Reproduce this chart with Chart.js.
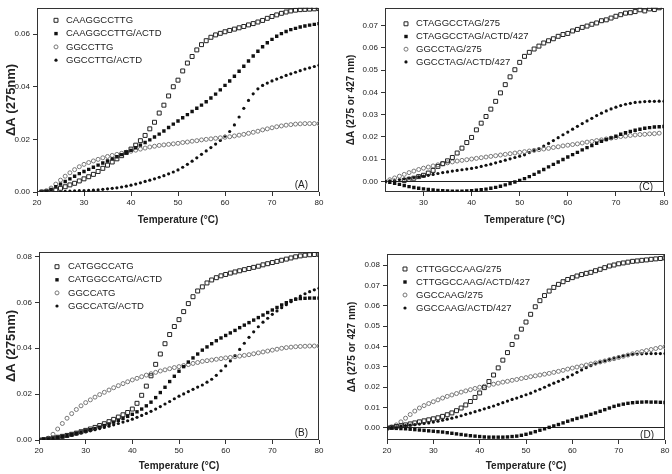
<!DOCTYPE html>
<html>
<head>
<meta charset="utf-8">
<script src="https://cdn.jsdelivr.net/npm/chart.js@4.4.0/dist/chart.umd.min.js"></script>
<style>
  body { margin: 0; background: #fff; }
  #wrap { position: relative; width: 672px; height: 474px; }
  canvas { position: absolute; }
</style>
</head>
<body>
<div id="wrap">
  <canvas id="chartA" width="336" height="237" style="left:0;top:0"></canvas>
  <canvas id="chartC" width="336" height="237" style="left:336px;top:0"></canvas>
  <canvas id="chartB" width="336" height="237" style="left:0;top:237px"></canvas>
  <canvas id="chartD" width="336" height="237" style="left:336px;top:237px"></canvas>
</div>
<script>
// temperature (°C), shared by all four panels
const temps = [20, 21, 22, 23, 24, 25, 26, 27, 28, 29, 30, 31, 32, 33, 34, 35, 36, 37, 38, 39, 40,
  41, 42, 43, 44, 45, 46, 47, 48, 49, 50, 51, 52, 53, 54, 55, 56, 57, 58, 59, 60,
  61, 62, 63, 64, 65, 66, 67, 68, 69, 70, 71, 72, 73, 74, 75, 76, 77, 78, 79, 80];

// Panel A
const labelsA = ['CAAGGCCTTG', 'CAAGGCCTTG/ACTD', 'GGCCTTG', 'GGCCTTG/ACTD'];
const a1 = [null, 0, 0, 0.0003, 0.0008, 0.0014, 0.002, 0.0027, 0.0033, 0.0042, 0.005, 0.0058, 0.0067, 0.0078, 0.009, 0.0102, 0.0114, 0.0126, 0.0138, 0.015, 0.0163, 0.0178, 0.0195, 0.0215, 0.024, 0.0265, 0.030, 0.033, 0.0365, 0.040, 0.0425, 0.046, 0.049, 0.0515, 0.054, 0.056, 0.0575, 0.0588, 0.0597, 0.0603, 0.0609, 0.0614, 0.0619, 0.0624, 0.0629, 0.0635, 0.064, 0.0646, 0.0652, 0.066, 0.0667, 0.0673, 0.0679, 0.0684, 0.0688, 0.0691, 0.0693, 0.0694, 0.0695, 0.0696, 0.0697];
const a2 = [null, 0, 0.0003, 0.001, 0.002, 0.003, 0.004, 0.005, 0.006, 0.007, 0.0078, 0.0086, 0.0094, 0.0102, 0.011, 0.0118, 0.0126, 0.0134, 0.0142, 0.015, 0.0158, 0.0168, 0.0178, 0.0188, 0.0198, 0.0209, 0.022, 0.0232, 0.0245, 0.0258, 0.027, 0.0282, 0.0294, 0.0306, 0.0318, 0.033, 0.0343, 0.0357, 0.0372, 0.0388, 0.0405, 0.0422, 0.044, 0.0459, 0.0478, 0.0498, 0.0517, 0.0535, 0.0552, 0.0567, 0.058, 0.0592, 0.0602, 0.061, 0.0617, 0.0622, 0.0627, 0.0631, 0.0634, 0.0637, 0.064];
const a3 = [null, 0, 0.0005, 0.0015, 0.003, 0.0045, 0.006, 0.0073, 0.0085, 0.0096, 0.0105, 0.0112, 0.0118, 0.0124, 0.013, 0.0135, 0.0139, 0.0143, 0.0147, 0.0151, 0.0155, 0.0159, 0.0163, 0.0167, 0.0171, 0.0174, 0.0177, 0.0179, 0.0181, 0.0183, 0.0185, 0.0188, 0.019, 0.0193, 0.0195, 0.0198, 0.02, 0.0202, 0.0204, 0.0206, 0.0208, 0.021, 0.0213, 0.0216, 0.0219, 0.0223, 0.0227, 0.0231, 0.0236, 0.024, 0.0244, 0.0248, 0.0251, 0.0254, 0.0256, 0.0258, 0.0259, 0.026, 0.026, 0.026, 0.026];
const a4 = [null, null, null, null, null, 0, 0.0002, 0.0003, 0.0004, 0.0005, 0.0005, 0.0006, 0.0007, 0.0008, 0.001, 0.0012, 0.0014, 0.0016, 0.0019, 0.0022, 0.0026, 0.003, 0.0035, 0.004, 0.0045, 0.005, 0.0056, 0.0062, 0.0069, 0.0076, 0.0084, 0.0094, 0.0105, 0.0117, 0.013, 0.0143, 0.0156, 0.0169, 0.0182, 0.0196, 0.0212, 0.023, 0.0255, 0.0285, 0.0318, 0.0348, 0.0373, 0.0392, 0.0405, 0.0414, 0.0422, 0.0429, 0.0436, 0.0443, 0.0449, 0.0455, 0.0461, 0.0467, 0.0472, 0.0477, 0.0482];

// Panel B
const labelsB = ['CATGGCCATG', 'CATGGCCATG/ACTD', 'GGCCATG', 'GGCCATG/ACTD'];
const b1 = [0, 0.0002, 0.0005, 0.0008, 0.0012, 0.0016, 0.002, 0.0025, 0.003, 0.0036, 0.0042, 0.0048, 0.0055, 0.0063, 0.0071, 0.008, 0.009, 0.01, 0.011, 0.012, 0.0135, 0.016, 0.0195, 0.0235, 0.028, 0.033, 0.0375, 0.042, 0.046, 0.0495, 0.0525, 0.056, 0.0595, 0.0625, 0.065, 0.0668, 0.0685, 0.0698, 0.0708, 0.0716, 0.0722, 0.0728, 0.0733, 0.0738, 0.0743, 0.0748, 0.0753, 0.0758, 0.0764, 0.0769, 0.0774, 0.0779, 0.0784, 0.0789, 0.0794, 0.0799, 0.0803, 0.0806, 0.0808, 0.0809, 0.081];
const b2 = [0, 0.0002, 0.0005, 0.0008, 0.0012, 0.0016, 0.002, 0.0025, 0.003, 0.0035, 0.004, 0.0045, 0.005, 0.0056, 0.0063, 0.007, 0.0078, 0.0086, 0.0094, 0.0103, 0.0112, 0.0123, 0.0135, 0.0149, 0.0165, 0.0185, 0.0207, 0.023, 0.0255, 0.0278, 0.03, 0.032, 0.034, 0.0358, 0.0375, 0.0392, 0.0406, 0.042, 0.0433, 0.0445, 0.0456, 0.0467, 0.0478, 0.049, 0.0501, 0.0512, 0.0523, 0.0534, 0.0545, 0.0556, 0.0567, 0.0578, 0.0589, 0.0599, 0.0608, 0.0614, 0.0617, 0.0618, 0.0619, 0.0619, 0.0619];
const b3 = [0, 0.0002, 0.0008, 0.0025, 0.0048, 0.0072, 0.0095, 0.0115, 0.0133, 0.0149, 0.0163, 0.0175, 0.0187, 0.0198, 0.0208, 0.0218, 0.0228, 0.0237, 0.0246, 0.0254, 0.0262, 0.0269, 0.0276, 0.0283, 0.0289, 0.0295, 0.0301, 0.0306, 0.0311, 0.0316, 0.032, 0.0325, 0.0329, 0.0334, 0.0338, 0.0343, 0.0346, 0.0349, 0.0352, 0.0355, 0.0358, 0.036, 0.0363, 0.0366, 0.0369, 0.0372, 0.0376, 0.038, 0.0384, 0.0388, 0.0392, 0.0396, 0.04, 0.0403, 0.0405, 0.0407, 0.0408, 0.0409, 0.041, 0.041, 0.041];
const b4 = [0, 0.0002, 0.0004, 0.0006, 0.0009, 0.0012, 0.0016, 0.002, 0.0025, 0.003, 0.0035, 0.004, 0.0045, 0.005, 0.0055, 0.006, 0.0066, 0.0072, 0.0078, 0.0084, 0.0091, 0.0099, 0.0107, 0.0116, 0.0125, 0.0135, 0.0146, 0.0157, 0.0168, 0.018, 0.0191, 0.0201, 0.0211, 0.0221, 0.0231, 0.024, 0.0252, 0.0265, 0.0282, 0.0302, 0.0323, 0.0345, 0.0368, 0.0395, 0.0422, 0.0448, 0.0472, 0.0494, 0.0514, 0.0531, 0.0548, 0.0563, 0.0577, 0.059, 0.0603, 0.0616, 0.0628, 0.0638, 0.0647, 0.0655, 0.0662];

// Panel C
const labelsC = ['CTAGGCCTAG/275', 'CTAGGCCTAG/ACTD/427', 'GGCCTAG/275', 'GGCCTAG/ACTD/427'];
const c1 = [null, null, null, null, null, null, 0.0005, 0.001, 0.0015, 0.0022, 0.0028, 0.0038, 0.005, 0.0068, 0.008, 0.0093, 0.0108, 0.0128, 0.015, 0.0175, 0.0198, 0.0232, 0.0262, 0.0292, 0.0325, 0.036, 0.0398, 0.0435, 0.047, 0.0502, 0.0535, 0.0562, 0.058, 0.0595, 0.0608, 0.0622, 0.0632, 0.0641, 0.0652, 0.066, 0.0665, 0.0676, 0.0683, 0.0692, 0.0698, 0.0706, 0.0712, 0.0722, 0.0726, 0.0734, 0.0742, 0.0749, 0.0756, 0.0758, 0.0763, 0.0771, 0.0766, 0.0775, 0.0772, 0.078, null];
const c2 = [null, null, 0, -0.0003, -0.0008, -0.0013, -0.0018, -0.0023, -0.0027, -0.003, -0.0033, -0.0035, -0.0038, -0.004, -0.0041, -0.0042, -0.0043, -0.0043, -0.0043, -0.0042, -0.0041, -0.0039, -0.0037, -0.0034, -0.003, -0.0026, -0.0021, -0.0015, -0.0009, -0.0002, 0.0005, 0.0013, 0.0022, 0.0032, 0.0043, 0.0054, 0.0066, 0.0077, 0.0088, 0.0099, 0.011, 0.0121, 0.0131, 0.0142, 0.0152, 0.0162, 0.0172, 0.0181, 0.0189, 0.0196, 0.0203, 0.0212, 0.0219, 0.0225, 0.023, 0.0235, 0.0239, 0.0242, 0.0245, 0.0246, 0.0247];
const c3 = [null, null, 0, 0.0008, 0.0016, 0.0024, 0.0032, 0.004, 0.0047, 0.0054, 0.006, 0.0065, 0.007, 0.0075, 0.008, 0.0084, 0.0088, 0.0092, 0.0095, 0.0098, 0.0101, 0.0104, 0.0107, 0.011, 0.0113, 0.0116, 0.0119, 0.0122, 0.0125, 0.0128, 0.0131, 0.0134, 0.0137, 0.014, 0.0143, 0.0146, 0.0149, 0.0153, 0.0156, 0.016, 0.0163, 0.0166, 0.0169, 0.0173, 0.0177, 0.018, 0.0184, 0.0187, 0.0191, 0.0195, 0.0198, 0.0202, 0.0204, 0.0207, 0.0209, 0.0211, 0.0212, 0.0214, 0.0215, 0.0217, null];
const c4 = [null, null, 0, 0.0003, 0.0006, 0.0009, 0.0012, 0.0015, 0.0018, 0.0021, 0.0024, 0.0028, 0.0032, 0.0036, 0.004, 0.0043, 0.0047, 0.005, 0.0053, 0.0056, 0.0059, 0.0063, 0.0068, 0.0073, 0.0078, 0.0084, 0.009, 0.0096, 0.0102, 0.0108, 0.0114, 0.012, 0.013, 0.0139, 0.0148, 0.0159, 0.0171, 0.0184, 0.0197, 0.021, 0.0222, 0.0235, 0.0248, 0.026, 0.0272, 0.0284, 0.0296, 0.0307, 0.0317, 0.0326, 0.0334, 0.0341, 0.0347, 0.0351, 0.0355, 0.0357, 0.0359, 0.036, 0.036, 0.0361, 0.0361];

// Panel D
const labelsD = ['CTTGGCCAAG/275', 'CTTGGCCAAG/ACTD/427', 'GGCCAAG/275', 'GGCCAAG/ACTD/427'];
const d1 = [0, 0.0003, 0.0007, 0.0011, 0.0015, 0.002, 0.0025, 0.003, 0.0035, 0.004, 0.0045, 0.005, 0.0057, 0.0065, 0.0074, 0.0085, 0.0098, 0.0113, 0.013, 0.015, 0.0172, 0.0198, 0.0228, 0.026, 0.0295, 0.0333, 0.037, 0.041, 0.0447, 0.0485, 0.052, 0.0558, 0.0595, 0.0625, 0.065, 0.0672, 0.069, 0.0705, 0.0718, 0.0729, 0.0738, 0.0746, 0.0753, 0.0759, 0.0764, 0.0772, 0.0779, 0.0787, 0.0795, 0.08, 0.0806, 0.081, 0.0814, 0.0818, 0.082, 0.0823, 0.0825, 0.0828, 0.083, 0.0832, 0.0835];
const d2 = [0, -0.0001, -0.0002, -0.0003, -0.0004, -0.0006, -0.0008, -0.001, -0.0012, -0.0014, -0.0016, -0.0018, -0.002, -0.0023, -0.0026, -0.0029, -0.0032, -0.0035, -0.0038, -0.004, -0.0042, -0.0044, -0.0045, -0.0045, -0.0045, -0.0045, -0.0044, -0.0042, -0.004, -0.0036, -0.0031, -0.0025, -0.0018, -0.0011, -0.0004, 0.0003, 0.001, 0.0017, 0.0025, 0.0033, 0.004, 0.0047, 0.0054, 0.006, 0.0067, 0.0074, 0.0082, 0.009, 0.0098, 0.0106, 0.0112, 0.0117, 0.0121, 0.0124, 0.0126, 0.0127, 0.0128, 0.0127, 0.0127, 0.0126, 0.0125];
const d3 = [0, 0.0005, 0.0015, 0.003, 0.0048, 0.0066, 0.0083, 0.0098, 0.011, 0.012, 0.0129, 0.0138, 0.0147, 0.0155, 0.0162, 0.0169, 0.0176, 0.0182, 0.0188, 0.0194, 0.02, 0.0205, 0.021, 0.0215, 0.022, 0.0225, 0.0229, 0.0234, 0.0238, 0.0243, 0.0247, 0.0252, 0.0256, 0.026, 0.0264, 0.0268, 0.0273, 0.0278, 0.0283, 0.0289, 0.0294, 0.0299, 0.0304, 0.0309, 0.0314, 0.0319, 0.0324, 0.0329, 0.0335, 0.034, 0.0346, 0.0352, 0.0358, 0.0364, 0.037, 0.0375, 0.038, 0.0385, 0.039, 0.0395, 0.0399];
const d4 = [0, 0.0003, 0.0006, 0.0009, 0.0012, 0.0014, 0.0016, 0.0019, 0.0022, 0.0025, 0.0029, 0.0033, 0.0038, 0.0043, 0.0048, 0.0054, 0.006, 0.0067, 0.0073, 0.008, 0.0087, 0.0094, 0.0101, 0.0108, 0.0116, 0.0124, 0.0132, 0.014, 0.0147, 0.0155, 0.0163, 0.0171, 0.0181, 0.019, 0.02, 0.021, 0.022, 0.0229, 0.0239, 0.025, 0.0261, 0.0273, 0.0285, 0.0296, 0.0306, 0.0315, 0.0323, 0.033, 0.0337, 0.0343, 0.0349, 0.0354, 0.0358, 0.0361, 0.0363, 0.0364, 0.0365, 0.0365, 0.0365, 0.0365, 0.0365];

const FONT = '"Liberation Sans", Arial, Helvetica, sans-serif';
Chart.defaults.font.family = FONT;
Chart.defaults.color = '#222';

// open square, filled square, open circle, small filled dot
const markers = [
  { pointStyle: 'rect', pointRadius: 2.8, pointBorderColor: '#222', pointBackgroundColor: 'rgba(0,0,0,0)', pointBorderWidth: 1 },
  { pointStyle: 'rect', pointRadius: 2.4, pointBorderColor: '#111', pointBackgroundColor: '#111', pointBorderWidth: 0 },
  { pointStyle: 'circle', pointRadius: 2, pointBorderColor: '#777', pointBackgroundColor: 'rgba(0,0,0,0)', pointBorderWidth: 1 },
  { pointStyle: 'circle', pointRadius: 1.6, pointBorderColor: '#111', pointBackgroundColor: '#111', pointBorderWidth: 0 }
];

function toPoints(series) {
  const pts = [];
  temps.forEach((t, i) => {
    if (series[i] !== null && series[i] !== undefined) pts.push({ x: t, y: series[i] });
  });
  return pts;
}

// frame, inner legend and the (A)..(D) tag
function panelPlugin(p) {
  return {
    id: 'panelDeco',
    beforeDatasetsDraw(chart) {
      const { ctx, chartArea: a } = chart;
      ctx.save();
      ctx.strokeStyle = '#333';
      ctx.lineWidth = 1;
      ctx.strokeRect(Math.round(a.left) + 0.5, Math.round(a.top) + 0.5,
        Math.round(a.right - a.left) - 1, Math.round(a.bottom - a.top) - 1);
      ctx.restore();
    },
    afterDraw(chart) {
      const { ctx, chartArea: a } = chart;
      ctx.save();
      chart.data.datasets.forEach((ds, i) => {
        const y = a.top + p.legY + i * p.legGap;
        const x = a.left + p.legX;
        ctx.fillStyle = ds.pointBackgroundColor;
        ctx.strokeStyle = ds.pointBorderColor;
        ctx.lineWidth = ds.pointBorderWidth;
        Chart.helpers.drawPoint(ctx, { pointStyle: ds.pointStyle, radius: ds.pointRadius, rotation: 0, borderWidth: ds.pointBorderWidth }, x, y);
        ctx.fillStyle = '#222';
        ctx.font = '9.5px ' + FONT;
        ctx.textAlign = 'left';
        ctx.textBaseline = 'middle';
        ctx.fillText(ds.label, a.left + p.legText, y);
      });
      ctx.font = '10px ' + FONT;
      ctx.fillStyle = '#222';
      ctx.textAlign = 'right';
      ctx.textBaseline = 'middle';
      ctx.fillText(p.tag, a.right - 11, a.bottom - p.tagUp);
      ctx.restore();
    }
  };
}

function makePanel(id, p) {
  new Chart(document.getElementById(id), {
    type: 'scatter',
    data: {
      datasets: p.series.map((s, i) => ({ label: p.labels[i], data: toPoints(s), showLine: false, ...markers[i] }))
    },
    options: {
      responsive: false,
      animation: false,
      events: [],
      layout: { padding: p.pad },
      plugins: { legend: { display: false }, tooltip: { enabled: false } },
      scales: {
        x: {
          type: 'linear', min: p.xMin, max: 80,
          ticks: { stepSize: 10, includeBounds: false, padding: 2, maxRotation: 0, font: { size: 8 }, color: '#222' },
          grid: { drawOnChartArea: false, tickLength: 4, color: '#333' },
          border: { display: false },
          title: { display: true, text: 'Temperature (°C)', font: { size: 10, weight: 'bold' }, color: '#222', padding: { top: 0, bottom: p.xTitlePad } },
          afterFit: s => { s.height = p.xH; }
        },
        y: {
          min: p.yMin, max: p.yMax,
          ticks: {
            stepSize: p.yStep, includeBounds: false, padding: 3, font: { size: 8 }, color: '#222',
            callback: v => (Math.abs(v) < 1e-9 ? 0 : v).toFixed(2)
          },
          grid: {
            drawOnChartArea: p.zeroLine,
            color: c => (c.tick && Math.abs(c.tick.value) < 1e-9) ? '#222' : 'rgba(0,0,0,0)',
            tickColor: '#333', tickLength: 4
          },
          border: { display: false },
          title: { display: true, text: p.yTitle, font: { size: p.yTitleSize, weight: 'bold' }, color: '#222', padding: { top: p.yTitlePad, bottom: 0 } },
          afterFit: s => { s.width = p.yW; }
        }
      }
    },
    plugins: [panelPlugin(p)]
  });
}

makePanel('chartA', {
  series: [a1, a2, a3, a4], labels: labelsA, tag: '(A)',
  xMin: 20, yMin: 0, yMax: 0.07, yStep: 0.02, zeroLine: false,
  pad: { left: 0, top: 5, right: 17, bottom: 0 }, yW: 37, xH: 45, xTitlePad: 11,
  yTitle: 'ΔA (275nm)', yTitleSize: 13, yTitlePad: 4,
  legX: 19, legText: 29, legY: 12.5, legGap: 13.3, tagUp: 7
});

makePanel('chartC', {
  series: [c1, c2, c3, c4], labels: labelsC, tag: '(C)',
  xMin: 22, yMin: -0.0047, yMax: 0.078, yStep: 0.01, zeroLine: true,
  pad: { left: 0, top: 7, right: 8, bottom: 0 }, yW: 49, xH: 45, xTitlePad: 11,
  yTitle: 'ΔA (275 or 427 nm)', yTitleSize: 10, yTitlePad: 9,
  legX: 21, legText: 31, legY: 16, legGap: 12.7, tagUp: 5
});

makePanel('chartB', {
  series: [b1, b2, b3, b4], labels: labelsB, tag: '(B)',
  xMin: 20, yMin: 0, yMax: 0.082, yStep: 0.02, zeroLine: false,
  pad: { left: 0, top: 15, right: 17, bottom: 0 }, yW: 39, xH: 34, xTitlePad: 2,
  yTitle: 'ΔA (275nm)', yTitleSize: 13, yTitlePad: 4,
  legX: 18, legText: 29, legY: 14.7, legGap: 13.1, tagUp: 7
});

makePanel('chartD', {
  series: [d1, d2, d3, d4], labels: labelsD, tag: '(D)',
  xMin: 20, yMin: -0.0059, yMax: 0.0854, yStep: 0.01, zeroLine: true,
  pad: { left: 0, top: 17, right: 7, bottom: 0 }, yW: 51, xH: 34, xTitlePad: 2,
  yTitle: 'ΔA (275 or 427 nm)', yTitleSize: 10, yTitlePad: 10,
  legX: 18, legText: 29, legY: 15, legGap: 13, tagUp: 5
});
</script>
</body>
</html>
